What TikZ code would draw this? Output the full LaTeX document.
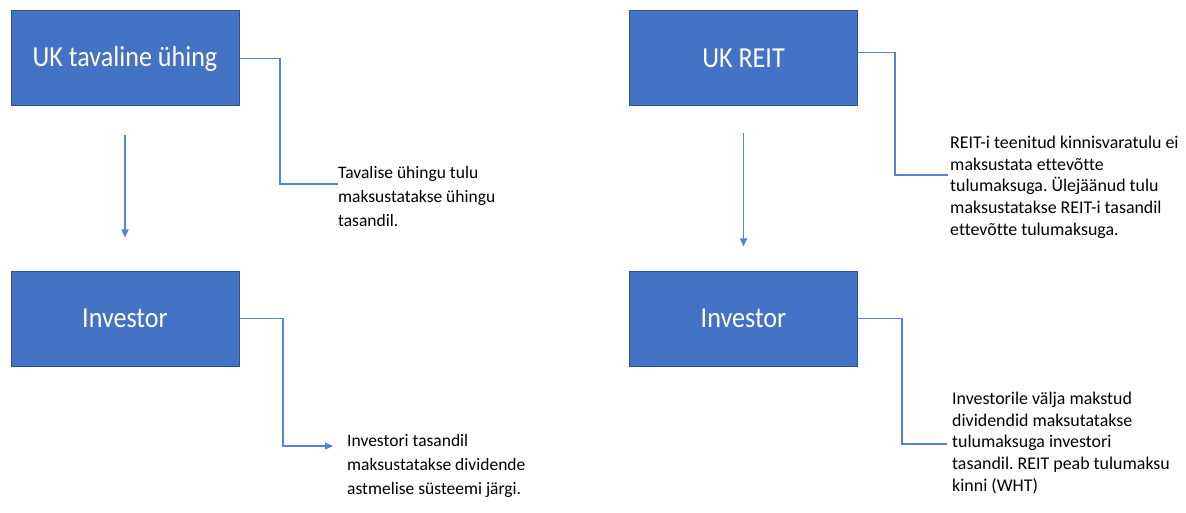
\documentclass[tikz,border=0pt]{standalone}
\usepackage{fontspec}
\setmainfont[Ligatures={NoCommon}]{Carlito}
\newfontfamily\boxfont[FakeStretch=0.9]{Carlito}
\usepackage{xcolor}
\definecolor{boxblue}{RGB}{68,114,196}
\definecolor{boxedge}{RGB}{47,82,143}
\definecolor{linkblue}{RGB}{86,130,210}
\usetikzlibrary{arrows.meta,positioning,calc}
\frenchspacing

\begin{document}
\begin{tikzpicture}[x=1pt, y=-1pt,
  entity/.style={draw=boxedge, fill=boxblue, line width=1pt, minimum width=228pt,
    minimum height=95pt, inner sep=0pt, text=white, font=\boxfont\fontsize{29}{35}\selectfont},
  noteleft/.style={anchor=north west, inner sep=0pt, align=left, font=\fontsize{17.5}{24}\selectfont},
  noteright/.style={anchor=north west, inner sep=0pt, align=left, font=\fontsize{17.9}{21.6}\selectfont},
  link/.style={linkblue, line width=1.2pt},
  flow/.style={linkblue, line width=1.2pt, -{Triangle[length=8pt,width=7pt]}}]
\useasboundingbox (0,0) rectangle (1186,513);
% left column: ordinary company
\node[entity] (ukco) at (125,58.5) {UK tavaline ühing};
\node[entity] (inv1) at (125,318.5) {Investor};
\draw[flow, shorten <=29pt, shorten >=33pt] (ukco.south) -- (inv1.north);
\node[noteleft] (note1) at (338,166) {Tavalise ühingu tulu\\maksustatakse ühingu\\tasandil.};
\node[noteleft] (note2) at (347,434) {Investori tasandil\\maksustatakse dividende\\astmelise süsteemi järgi.};
\coordinate (k1) at (280,184);
\coordinate (k2) at (283,446);
\draw[link] (ukco.east) -| (k1) -- (k1 -| note1.west);
\draw[flow, shorten >=14pt] (inv1.east) -| (k2) -- (k2 -| note2.west);
% right column: REIT
\node[entity] (reit) at (743.5,58.5) {UK REIT};
\node[entity] (inv2) at (743.5,318.5) {Investor};
\draw[flow, shorten <=27pt, shorten >=24pt] (reit.south) -- (inv2.north);
\node[noteright] (note3) at (950,136) {REIT-i teenitud kinnisvaratulu ei\\maksustata ettevõtte\\tulumaksuga. Ülejäänud tulu\\maksustatakse REIT-i tasandil\\ettevõtte tulumaksuga.};
\node[noteright] (note4) at (952,392) {Investorile välja makstud\\dividendid maksutatakse\\tulumaksuga investori\\tasandil. REIT peab tulumaksu\\kinni (WHT)};
\coordinate (k3) at (895,175);
\coordinate (k4) at (902,444);
\draw[link] ([yshift=6pt]reit.east) -| (k3) -- ([xshift=-2pt]k3 -| note3.west);
\draw[link] (inv2.east) -| (k4) -- ([xshift=-5pt]k4 -| note4.west);
\end{tikzpicture}
\end{document}
